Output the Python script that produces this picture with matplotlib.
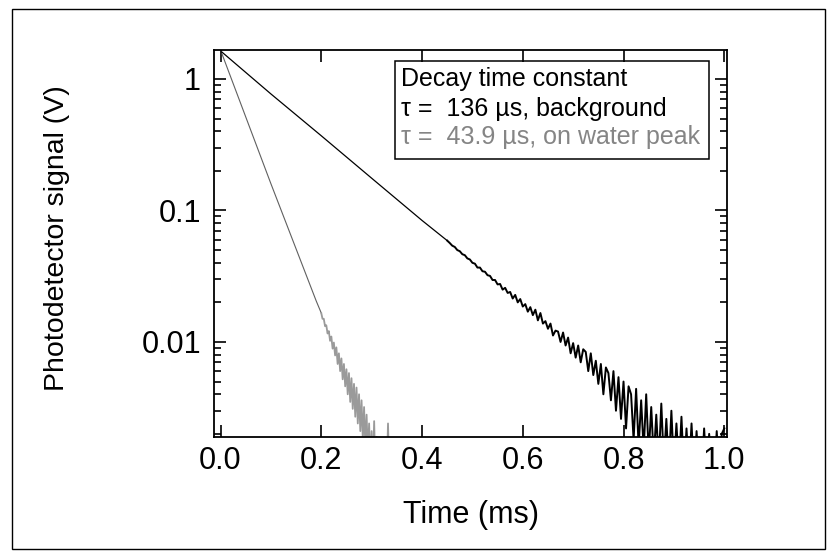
"""Photodetector ring-down decay: background vs. on the water absorption peak."""

import numpy as np
import matplotlib
matplotlib.use("Agg")
import matplotlib.pyplot as plt
from matplotlib.patches import Rectangle
from matplotlib.ticker import LogLocator, NullFormatter, NullLocator

plt.rcParams["font.family"] = ["Liberation Sans", "DejaVu Sans"]

# --- data ----------------------------------------------------------------
# background (tau = 136 us), clean part of the trace
black_time = [0.003, 0.1, 0.2, 0.3, 0.4, 0.45]
black_signal = [1.60, 0.77, 0.37, 0.176, 0.084, 0.0590]

# background, noisy tail (one value every 5 us from 0.455 ms)
black_tail_time = np.linspace(0.455, 1.0, 110)
black_tail_signal = [
    0.0566, 0.0540, 0.0528, 0.0500, 0.0490, 0.0465, 0.0457, 0.0432, 0.0424, 0.0400,
    0.0394, 0.0368, 0.0368, 0.0345, 0.0342, 0.0322, 0.0318, 0.0296, 0.0296, 0.0274,
    0.0276, 0.0250, 0.0258, 0.0236, 0.0240, 0.0214, 0.0228, 0.0200, 0.0212, 0.0186,
    0.0194, 0.0170, 0.0184, 0.0160, 0.0176, 0.0146, 0.0166, 0.0138, 0.0144, 0.0126,
    0.0138, 0.0112, 0.0122, 0.0120, 0.0100, 0.0118, 0.0094, 0.0108, 0.0082, 0.0098,
    0.0076, 0.0094, 0.0070, 0.0088, 0.0084, 0.0060, 0.0082, 0.0056, 0.0072, 0.0048,
    0.0068, 0.0040, 0.0064, 0.0058, 0.0036, 0.0060, 0.0030, 0.0054, 0.0026, 0.0050,
    0.0022, 0.0046, 0.0040, 0.0018, 0.0044, 0.0016, 0.0036, 0.0015, 0.0040, 0.0014,
    0.0032, 0.0013, 0.0028, 0.0012, 0.0034, 0.0012, 0.0026, 0.0011, 0.0030, 0.0011,
    0.0024, 0.0011, 0.0027, 0.0010, 0.0022, 0.0010, 0.0024, 0.0010, 0.0021, 0.0010,
    0.0010, 0.0022, 0.0010, 0.0020, 0.0010, 0.0010, 0.0021, 0.0010, 0.0020, 0.0022,
]

# on water peak (tau = 43.9 us), clean part
gray_time = [0.003, 0.1, 0.19, 0.2]
gray_signal = [1.55, 0.16, 0.0205, 0.0166]

# on water peak, noisy tail (one value every 2.5 us from 0.2025 ms)
gray_tail_time = np.linspace(0.2025, 0.34, 56)
gray_tail_signal = [
    0.0150, 0.0150, 0.0132, 0.0134, 0.0116, 0.0121, 0.0102, 0.0110, 0.0089, 0.0099,
    0.0079, 0.0091, 0.0068, 0.0082, 0.0060, 0.0075, 0.0052, 0.0068, 0.0046, 0.0062,
    0.0040, 0.0058, 0.0035, 0.0053, 0.0031, 0.0048, 0.0027, 0.0045, 0.0024, 0.0040,
    0.0021, 0.0036, 0.0018, 0.0032, 0.0016, 0.0028, 0.0014, 0.0024, 0.0012, 0.0021,
    0.0011, 0.0025, 0.0010, 0.0019, 0.0010, 0.0010, 0.0010, 0.0010, 0.0010, 0.0010,
    0.0010, 0.0010, 0.0024, 0.0010, 0.0010, 0.0010,
]

x_ticks = [0.0, 0.2, 0.4, 0.6, 0.8, 1.0]
x_tick_labels = ["0.0", "0.2", "0.4", "0.6", "0.8", "1.0"]
y_ticks = [0.01, 0.1, 1]
y_tick_labels = ["0.01", "0.1", "1"]

legend_lines = [
    ("Decay time constant", "black"),
    ("\u03c4 =  136 \u00b5s, background", "black"),
    ("\u03c4 =  43.9 \u00b5s, on water peak", "#858585"),
]

W, H = 832, 552


def px(x, y):
    """Pixel position (from top-left) to figure fraction."""
    return x / W, 1 - y / H


fig = plt.figure(figsize=(W / 100, H / 100), dpi=100)
fig.patch.set_facecolor("white")

# outer frame round the whole figure
fig.add_artist(Rectangle(px(12, 549), (825 - 12) / W, (549 - 9) / H, transform=fig.transFigure,
                         fill=False, edgecolor="black", linewidth=1.0))

left, top = px(213.6, 49.5)
right, bottom = px(727, 436.5)
ax = fig.add_axes([left, bottom, right - left, top - bottom])

ax.set_yscale("log")
ax.set_xlim(-0.0137, 1.0054)
ax.set_ylim(0.00191, 1.676)

# clean decays thin, noisy tails a bit heavier so they read as a band
ax.plot(black_time, black_signal, color="black", linewidth=0.9)
ax.plot(np.concatenate([black_time[-1:], black_tail_time]), np.concatenate([black_signal[-1:], black_tail_signal]),
        color="black", linewidth=1.4)
ax.plot(gray_time, gray_signal, color="#606060", linewidth=0.8)
ax.plot(np.concatenate([gray_time[-1:], gray_tail_time]), np.concatenate([gray_signal[-1:], gray_tail_signal]),
        color="#9a9a9a", linewidth=1.3)

ax.set_xticks(x_ticks, x_tick_labels)
ax.set_yticks(y_ticks, y_tick_labels)
ax.xaxis.set_minor_locator(NullLocator())
ax.yaxis.set_minor_locator(LogLocator(base=10, subs=np.arange(2, 10)))
ax.yaxis.set_minor_formatter(NullFormatter())

ax.tick_params(which="both", direction="in", top=True, right=True, width=1.2, labelsize=22)
ax.tick_params(which="major", length=8.5)
ax.tick_params(which="minor", length=5)
ax.tick_params(axis="x", pad=7)
ax.tick_params(axis="y", pad=9)
for spine in ax.spines.values():
    spine.set_linewidth(1.3)

# legend box, drawn by hand
ax.add_patch(Rectangle((0.3533, 0.717), 0.9649 - 0.3533, 0.9703 - 0.717, transform=ax.transAxes,
                       fill=False, edgecolor="black", linewidth=1.1, zorder=5))
for (text, color), y in zip(legend_lines, [0.9057, 0.8290, 0.7558]):
    ax.text(0.365, y, text, transform=ax.transAxes, fontsize=18, color=color, va="baseline", ha="left")

x, y = px(471, 523)
fig.text(x, y, "Time (ms)", fontsize=22, ha="center", va="baseline")
x, y = px(57, 238)
fig.text(x, y, "Photodetector signal (V)", fontsize=20.5, rotation=90, ha="center", va="center")

fig.savefig("out.png", dpi=100, facecolor="white")
